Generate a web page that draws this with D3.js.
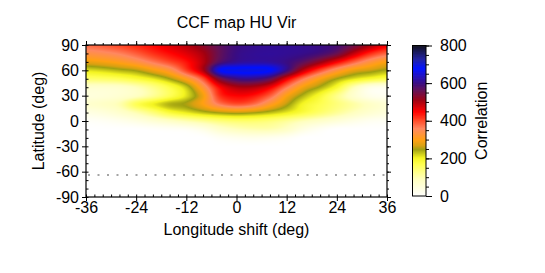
<!DOCTYPE html>
<html>
<head>
<meta charset="utf-8">
<script src="https://cdn.jsdelivr.net/npm/d3@7"></script>
<style>
  body { margin: 0; background: #fff; }
  svg { font-family: "Liberation Sans", Arial, sans-serif; }
</style>
</head>
<body>
<script>
// grid of the CCF map: longitude shift (deg) x latitude (deg)
var lons = [-36, -32, -28, -24, -20, -16, -12, -8, -4, 0, 4, 8, 12, 16, 20, 24, 28, 32, 36];
var lats = [90, 80, 70, 60, 50, 40, 30, 20, 10, 0, -10, -20, -30, -40, -50, -60, -70, -80, -90];

// correlation, one row per latitude (top to bottom)
var ccf = [
  [380, 390, 405, 425, 445, 470, 495, 530, 570, 598, 608, 612, 612, 608, 602, 590, 555, 505, 460],
  [340, 350, 365, 390, 420, 445, 470, 505, 565, 602, 612, 615, 612, 606, 592, 560, 490, 425, 385],
  [285, 295, 310, 335, 370, 405, 440, 495, 580, 612, 620, 618, 602, 570, 520, 455, 390, 335, 300],
  [215, 225, 240, 255, 290, 330, 410, 500, 670, 690, 692, 680, 600, 490, 405, 335, 285, 265, 245],
  [150, 155, 165, 185, 210, 250, 310, 400, 545, 600, 605, 570, 465, 370, 300, 250, 215, 190, 170],
  [ 70,  70,  75,  95, 130, 175, 230, 330, 450, 500, 500, 460, 370, 290, 245, 190, 100,  40,  30],
  [ 50,  55,  65,  85, 120, 165, 215, 290, 420, 450, 440, 390, 300, 240, 190, 130,  70,  30,  20],
  [ 70,  80, 100, 165, 205, 240, 255, 300, 370, 400, 380, 320, 260, 200, 170, 140, 110,  80,  60],
  [ 40,  50,  70, 100, 140, 185, 210, 235, 255, 265, 255, 235, 210, 180, 150, 120,  90,  65,  50],
  [ 10,  15,  25,  40,  60,  80, 100, 120, 140, 150, 150, 140, 120,  95,  75,  55,  35,  20,  15],
  [  0,   0,   0,   0,   5,  10,  15,  35,  70,  90, 100, 100,  80,  40,  15,   0,   0,   0,   0],
  [  0,   0,   0,   0,   0,   0,   0,   0,  15,  25,  30,  25,  15,   0,   0,   0,   0,   0,   0],
  [  0,   0,   0,   0,   0,   0,   0,   0,   0,   0,   0,   0,   0,   0,   0,   0,   0,   0,   0],
  [  0,   0,   0,   0,   0,   0,   0,   0,   0,   0,   0,   0,   0,   0,   0,   0,   0,   0,   0],
  [  0,   0,   0,   0,   0,   0,   0,   0,   0,   0,   0,   0,   0,   0,   0,   0,   0,   0,   0],
  [  0,   0,   0,   0,   0,   0,   0,   0,   0,   0,   0,   0,   0,   0,   0,   0,   0,   0,   0],
  [  0,   0,   0,   0,   0,   0,   0,   0,   0,   0,   0,   0,   0,   0,   0,   0,   0,   0,   0],
  [  0,   0,   0,   0,   0,   0,   0,   0,   0,   0,   0,   0,   0,   0,   0,   0,   0,   0,   0],
  [  0,   0,   0,   0,   0,   0,   0,   0,   0,   0,   0,   0,   0,   0,   0,   0,   0,   0,   0]
];

var xTicks = [-36, -24, -12, 0, 12, 24, 36];
var yTicks = [-90, -60, -30, 0, 30, 60, 90];
var cTicks = [0, 200, 400, 600, 800];
var lowestLat = -64;   // dotted line

// colour table
var cStops = [0, 90, 170, 205, 250, 270, 300, 360, 410, 450, 510, 560, 600, 640, 680, 730, 800];
var cColors = ["#ffffff", "#ffffc0", "#ffff50", "#f4f420", "#a0a010", "#d8a010", "#ffa010",
               "#ff8860", "#ff4020", "#ff0000", "#a00010", "#681050", "#3a0c80", "#2010c0",
               "#0010ff", "#2020a0", "#101020"];

var W = 545, H = 273;
var plot = {left: 86, right: 387, top: 45, bottom: 197};

var x = d3.scaleLinear().domain([-36, 36]).range([plot.left, plot.right]);
var y = d3.scaleLinear().domain([-90, 90]).range([plot.bottom, plot.top]);
var color = d3.scaleLinear().domain(cStops).range(cColors).clamp(true);

var svg = d3.select("body").append("svg")
    .attr("width", W)
    .attr("height", H);

// --- heat map image (smooth, catmull-rom between grid nodes) ---
var gi = d3.scaleLinear().domain(d3.extent(lons)).range([0, lons.length - 1]).clamp(true);
var gj = d3.scaleLinear().domain([lats[0], lats[lats.length - 1]]).range([0, lats.length - 1]).clamp(true);

function cr(p0, p1, p2, p3, t) {
  return 0.5 * ((2 * p1) + (-p0 + p2) * t + (2 * p0 - 5 * p1 + 4 * p2 - p3) * t * t +
    (-p0 + 3 * p1 - 3 * p2 + p3) * t * t * t);
}
function cell(j, i) {
  j = Math.max(0, Math.min(lats.length - 1, j));
  i = Math.max(0, Math.min(lons.length - 1, i));
  return ccf[j][i];
}
function valueAt(lon, lat) {
  var fi = gi(lon), fj = gj(lat);
  var i = Math.min(Math.floor(fi), lons.length - 2), j = Math.min(Math.floor(fj), lats.length - 2);
  var ti = fi - i, tj = fj - j;
  var rows = [];
  for (var k = -1; k <= 2; k++) {
    rows.push(cr(cell(j + k, i - 1), cell(j + k, i), cell(j + k, i + 1), cell(j + k, i + 2), ti));
  }
  return Math.max(0, cr(rows[0], rows[1], rows[2], rows[3], tj));
}

var pw = plot.right - plot.left, ph = plot.bottom - plot.top;
var canvas = document.createElement("canvas");
canvas.width = pw; canvas.height = ph;
var ctx = canvas.getContext("2d");
var img = ctx.createImageData(pw, ph);
for (var py = 0; py < ph; py++) {
  for (var px = 0; px < pw; px++) {
    var v = valueAt(x.invert(plot.left + px + 0.5), y.invert(plot.top + py + 0.5));
    var c = d3.rgb(color(v));
    var o = (py * pw + px) * 4;
    img.data[o] = c.r; img.data[o + 1] = c.g; img.data[o + 2] = c.b; img.data[o + 3] = 255;
  }
}
ctx.putImageData(img, 0, 0);

svg.append("image")
    .attr("x", plot.left).attr("y", plot.top)
    .attr("width", pw).attr("height", ph)
    .attr("preserveAspectRatio", "none")
    .attr("href", canvas.toDataURL());

// dotted line of the lowest visible latitude
svg.append("line")
    .attr("x1", plot.left + 2).attr("x2", plot.right)
    .attr("y1", y(lowestLat)).attr("y2", y(lowestLat))
    .attr("stroke", "#888")
    .attr("stroke-width", 1.5)
    .attr("stroke-dasharray", "2,7.5");

// --- axes ---
function styleAxis(g) {
  g.select(".domain").remove();
  g.selectAll("line").attr("stroke", "#000");
  g.selectAll("text").attr("fill", "#000").style("font-size", "16px");
}
var fmt = function(d) { return String(d); };
var xMinor = d3.range(-36, 37, 2);
var yMinor = d3.range(-90, 91, 10);

svg.append("g")
    .attr("transform", "translate(0," + plot.bottom + ")")
    .call(d3.axisBottom(x).tickValues(xTicks).tickFormat(fmt).tickSize(4).tickPadding(1))
    .call(styleAxis);
svg.append("g")
    .attr("transform", "translate(0," + plot.bottom + ")")
    .call(d3.axisBottom(x).tickValues(xMinor).tickFormat("").tickSize(-2.5))
    .call(styleAxis);
svg.append("g")
    .attr("transform", "translate(0," + plot.top + ")")
    .call(d3.axisTop(x).tickValues(xTicks).tickFormat("").tickSize(4))
    .call(styleAxis);
svg.append("g")
    .attr("transform", "translate(0," + plot.top + ")")
    .call(d3.axisTop(x).tickValues(xMinor).tickFormat("").tickSize(2))
    .call(styleAxis);

svg.append("g")
    .attr("transform", "translate(" + plot.left + ",0)")
    .call(d3.axisLeft(y).tickValues(yTicks).tickFormat(fmt).tickSize(4).tickPadding(3))
    .call(styleAxis);
svg.append("g")
    .attr("transform", "translate(" + plot.left + ",0)")
    .call(d3.axisLeft(y).tickValues(yMinor).tickFormat("").tickSize(-2.5))
    .call(styleAxis);
svg.append("g")
    .attr("transform", "translate(" + plot.right + ",0)")
    .call(d3.axisRight(y).tickValues(yTicks).tickFormat("").tickSize(4))
    .call(styleAxis);
svg.append("g")
    .attr("transform", "translate(" + plot.right + ",0)")
    .call(d3.axisRight(y).tickValues(yMinor).tickFormat("").tickSize(2))
    .call(styleAxis);

// frame
svg.append("rect")
    .attr("x", plot.left).attr("y", plot.top)
    .attr("width", pw).attr("height", ph)
    .attr("fill", "none").attr("stroke", "#000").attr("stroke-width", 1.2);

// titles
svg.append("text")
    .attr("x", (plot.left + plot.right) / 2).attr("y", 28)
    .attr("text-anchor", "middle")
    .style("font-size", "16px")
    .text("CCF map HU Vir");
svg.append("text")
    .attr("x", (plot.left + plot.right) / 2).attr("y", 235)
    .attr("text-anchor", "middle")
    .style("font-size", "16px")
    .text("Longitude shift (deg)");
svg.append("text")
    .attr("transform", "translate(44," + (plot.top + plot.bottom) / 2 + ") rotate(-90)")
    .attr("text-anchor", "middle")
    .style("font-size", "16px")
    .text("Latitude (deg)");

// --- colour bar ---
var bar = {left: 412.5, right: 426, top: 45.5, bottom: 196};
var cy = d3.scaleLinear().domain([0, 800]).range([bar.bottom, bar.top]);
var steps = d3.range(0, 800, 2);
svg.append("g").selectAll("rect")
    .data(steps)
    .enter().append("rect")
    .attr("x", bar.left)
    .attr("width", bar.right - bar.left)
    .attr("y", function(d) { return cy(d + 2); })
    .attr("height", function(d) { return cy(d) - cy(d + 2) + 0.5; })
    .attr("fill", function(d) { return color(d + 1); });
svg.append("rect")
    .attr("x", bar.left).attr("y", bar.top)
    .attr("width", bar.right - bar.left).attr("height", bar.bottom - bar.top)
    .attr("fill", "none").attr("stroke", "#000").attr("stroke-width", 1);

svg.append("g")
    .attr("transform", "translate(" + bar.right + ",0)")
    .call(d3.axisRight(cy).tickValues(cTicks).tickFormat(fmt).tickSize(6).tickPadding(8))
    .call(styleAxis);
svg.append("g")
    .attr("transform", "translate(" + bar.right + ",0)")
    .call(d3.axisRight(cy).tickValues(d3.range(0, 801, 50)).tickFormat("").tickSize(3))
    .call(styleAxis);

svg.append("text")
    .attr("transform", "translate(487," + (bar.top + bar.bottom) / 2 + ") rotate(-90)")
    .attr("text-anchor", "middle")
    .style("font-size", "16px")
    .text("Correlation");
</script>
</body>
</html>
